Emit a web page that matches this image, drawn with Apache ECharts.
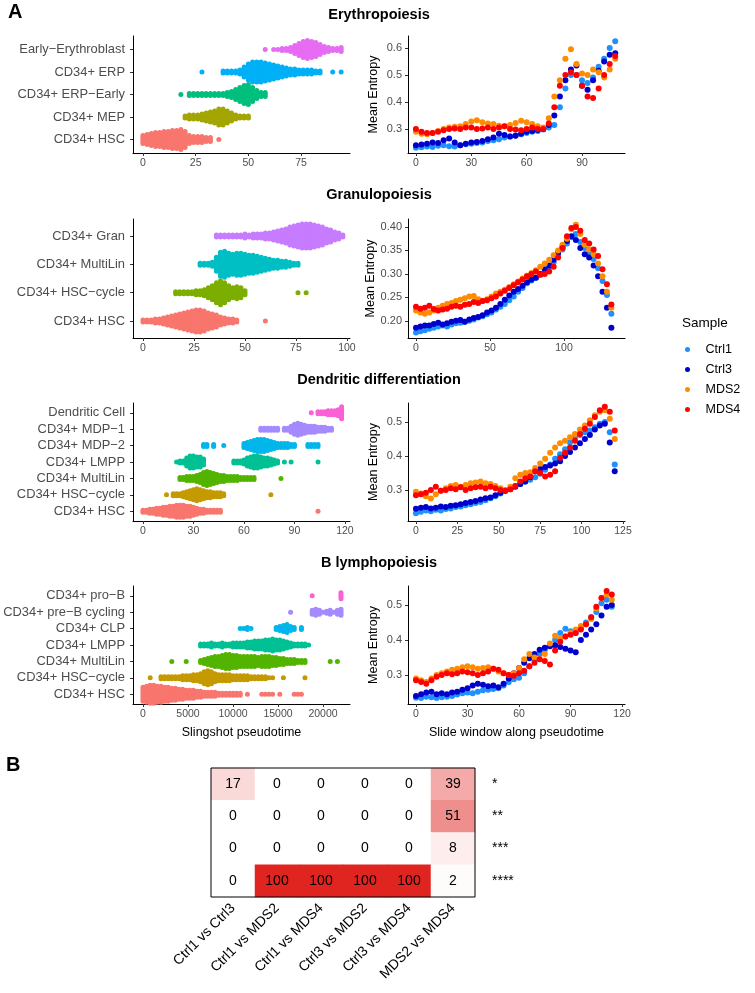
<!DOCTYPE html>
<html>
<head>
<meta charset="utf-8">
<script src="https://cdn.jsdelivr.net/npm/echarts/dist/echarts.min.js"></script>
<style>
  html, body { margin: 0; padding: 0; background: #fff; }
  #chart { width: 755px; height: 993px; }
</style>
</head>
<body>
<div id="chart"></div>
<script>
const FONT = '"Liberation Sans", Arial, sans-serif';

// ---------- samples (right column) ----------
const samples = ['Ctrl1', 'Ctrl3', 'MDS2', 'MDS4'];
const sampleColors = ['#1E90FF', '#0000CD', '#FF8C00', '#FF0000'];

// ---------- Erythropoiesis ----------
const eryCats = ['CD34+ HSC', 'CD34+ MEP', 'CD34+ ERP\u2212Early', 'CD34+ ERP', 'Early\u2212Erythroblast'];
const eryColors = ['#F8766D', '#A3A500', '#00BF7D', '#00B0F6', '#E76BF3'];
const eryBinStep = 2;
const eryBinStart = [0, 20, 18, 28, 58];
const eryCounts = [
  [5,6,7,8,8,9,9,10,10,11,9,5,4,4,4,3,3,0,1],
  [2,3,3,3,4,5,6,7,9,9,7,5,3,2,2,2],
  [1,0,2,2,2,2,2,2,2,2,2,3,4,6,8,10,11,8,5,3,3],
  [1,0,0,0,0,2,2,2,2,3,6,9,11,11,11,10,9,8,7,6,5,4,4,3,3,3,3,2,2,0,0,1,0,1],
  [1,0,1,1,2,2,3,5,7,9,10,9,8,6,4,3,2,2,3]
];
const eryXTicks = [0, 25, 50, 75];
const eryWinStep = 3;
const eryCtrl1 = [0.230,0.232,0.235,0.233,0.238,0.240,0.236,0.235,0.240,0.243,0.245,0.248,0.250,0.255,0.258,0.262,0.268,0.272,0.276,0.280,0.285,0.290,0.292,0.298,0.305,0.315,0.380,0.450,0.500,0.500,0.480,0.470,0.490,0.530,0.560,0.600,0.625];
const eryCtrl3 = [0.240,0.242,0.245,0.250,0.248,0.258,0.265,0.250,0.240,0.245,0.250,0.252,0.255,0.262,0.268,0.282,0.278,0.272,0.275,0.282,0.290,0.292,0.296,0.300,0.315,0.350,0.420,0.480,0.520,0.535,0.460,0.445,0.480,0.515,0.550,0.575,0.580];
const eryMDS2 = [0.290,0.282,0.280,0.285,0.292,0.300,0.305,0.308,0.310,0.318,0.328,0.332,0.325,0.320,0.318,0.312,0.310,0.315,0.322,0.330,0.325,0.318,0.310,0.305,0.340,0.420,0.480,0.560,0.595,0.540,0.505,0.500,0.520,0.510,0.490,0.520,0.560];
const eryMDS4 = [0.300,0.290,0.285,0.285,0.290,0.295,0.300,0.302,0.300,0.305,0.305,0.300,0.302,0.305,0.300,0.305,0.310,0.300,0.298,0.295,0.300,0.305,0.300,0.300,0.320,0.380,0.460,0.500,0.510,0.500,0.460,0.420,0.415,0.450,0.500,0.540,0.570];
const eryEntXTicks = [0, 30, 60, 90];
const eryEntYTicks = [0.3, 0.4, 0.5, 0.6];

// ---------- Granulopoiesis ----------
const granCats = ['CD34+ HSC', 'CD34+ HSC\u2212cycle', 'CD34+ MultiLin', 'CD34+ Gran'];
const granColors = ['#F8766D', '#7CAE00', '#00BFC4', '#C77CFF'];
const granBinStep = 2;
const granBinStart = [0, 16, 28, 36];
const granCounts = [
  [2,2,2,3,3,4,5,6,7,8,9,10,11,12,12,11,9,8,7,5,4,3,3,2,0,0,0,0,0,0,1],
  [2,2,2,2,2,3,3,4,6,8,11,13,11,8,6,7,6,3,0,0,0,0,0,0,0,0,0,0,0,0,1,0,1],
  [2,2,2,3,8,13,14,12,11,12,12,11,10,10,9,8,7,6,5,5,4,4,3,2,2],
  [2,2,2,2,2,2,2,3,2,3,3,3,4,4,5,6,7,8,10,11,12,13,13,13,12,11,10,8,7,5,4,2]
];
const granXTicks = [0, 25, 50, 75, 100];
const granWinStep = 3;
const granCtrl1 = [0.175,0.178,0.180,0.183,0.185,0.188,0.190,0.188,0.192,0.195,0.196,0.198,0.200,0.203,0.207,0.210,0.214,0.218,0.224,0.230,0.236,0.244,0.252,0.262,0.270,0.280,0.286,0.292,0.298,0.305,0.315,0.325,0.340,0.352,0.365,0.378,0.385,0.368,0.355,0.345,0.332,0.312,0.285,0.255,0.215];
const granCtrl3 = [0.185,0.188,0.190,0.190,0.193,0.196,0.192,0.195,0.198,0.200,0.202,0.198,0.203,0.206,0.208,0.212,0.218,0.222,0.228,0.236,0.245,0.254,0.262,0.268,0.275,0.282,0.288,0.292,0.300,0.310,0.318,0.330,0.345,0.358,0.370,0.380,0.372,0.355,0.342,0.335,0.318,0.295,0.262,0.228,0.185];
const granMDS2 = [0.222,0.218,0.215,0.218,0.222,0.228,0.232,0.236,0.238,0.242,0.245,0.248,0.252,0.253,0.246,0.242,0.246,0.252,0.258,0.262,0.266,0.272,0.278,0.284,0.290,0.296,0.302,0.308,0.315,0.322,0.330,0.340,0.350,0.362,0.375,0.395,0.405,0.385,0.362,0.352,0.342,0.322,0.295,0.262,0.228];
const granMDS4 = [0.230,0.226,0.228,0.232,0.225,0.222,0.224,0.226,0.230,0.232,0.230,0.234,0.236,0.240,0.238,0.242,0.244,0.248,0.252,0.258,0.264,0.270,0.276,0.282,0.288,0.295,0.300,0.305,0.298,0.300,0.305,0.315,0.335,0.355,0.380,0.398,0.400,0.392,0.372,0.365,0.352,0.338,0.310,0.278,0.235];
const granEntXTicks = [0, 50, 100];
const granEntYTicks = [0.20, 0.25, 0.30, 0.35, 0.40];

// ---------- Dendritic differentiation ----------
const dendCats = ['CD34+ HSC', 'CD34+ HSC\u2212cycle', 'CD34+ MultiLin', 'CD34+ LMPP', 'CD34+ MDP\u22122', 'CD34+ MDP\u22121', 'Dendritic Cell'];
const dendColors = ['#F8766D', '#C49A00', '#53B400', '#00C094', '#00B6EB', '#A58AFF', '#FB61D7'];
const dendBinStep = 2;
const dendBinStart = [0, 14, 22, 20, 36, 70, 100];
const dendCounts = [
  [2,2,3,3,4,4,5,5,6,6,7,7,7,6,6,5,4,3,3,2,2,2,2,2,0,0,0,0,0,0,0,0,0,0,0,0,0,0,0,0,0,0,0,0,0,0,0,0,0,0,0,0,1],
  [1,0,2,2,2,3,4,5,6,7,6,5,4,4,3,3,3,2,0,0,0,0,0,0,0,0,0,0,0,0,0,1],
  [2,2,3,3,3,4,5,7,8,7,6,5,4,4,3,3,3,3,2,2,2,2,2,0,0,0,0,0,0,0,1],
  [1,2,2,5,7,7,6,6,4,0,0,0,0,0,0,0,0,2,2,2,3,5,6,7,7,6,5,5,4,3,2,0,1,0,1,0,0,0,0,0,0,0,1],
  [2,2,0,2,0,0,1,0,0,0,0,0,3,4,5,6,7,7,7,6,5,4,3,3,3,3,2,2,0,0,0,2,2,2,2],
  [2,2,2,2,2,2,0,2,2,4,6,7,6,5,4,4,4,3,3,3,2,2],
  [1,0,2,2,2,3,3,3,4,7]
];
const dendXTicks = [0, 30, 60, 90, 120];
const dendWinStep = 3;
const dendCtrl1 = [0.232,0.236,0.240,0.238,0.242,0.240,0.244,0.246,0.250,0.252,0.255,0.258,0.262,0.265,0.270,0.276,0.282,0.290,0.298,0.305,0.312,0.318,0.325,0.330,0.338,0.348,0.360,0.375,0.392,0.405,0.420,0.440,0.455,0.462,0.470,0.475,0.485,0.495,0.500,0.470,0.375];
const dendCtrl3 = [0.245,0.248,0.250,0.246,0.248,0.252,0.250,0.254,0.255,0.258,0.262,0.265,0.268,0.272,0.276,0.278,0.285,0.292,0.298,0.302,0.310,0.318,0.325,0.338,0.355,0.362,0.368,0.372,0.378,0.385,0.400,0.412,0.425,0.438,0.450,0.462,0.478,0.490,0.495,0.440,0.355];
const dendMDS2 = [0.295,0.290,0.282,0.275,0.288,0.298,0.305,0.312,0.315,0.310,0.315,0.320,0.322,0.325,0.320,0.318,0.312,0.305,0.300,0.310,0.335,0.345,0.350,0.352,0.365,0.378,0.392,0.410,0.425,0.438,0.445,0.455,0.465,0.478,0.490,0.505,0.520,0.530,0.535,0.510,0.450];
const dendMDS4 = [0.285,0.288,0.292,0.300,0.310,0.298,0.300,0.305,0.302,0.308,0.300,0.305,0.308,0.310,0.305,0.310,0.305,0.300,0.298,0.302,0.312,0.325,0.335,0.340,0.355,0.350,0.340,0.345,0.355,0.395,0.410,0.425,0.445,0.465,0.480,0.495,0.515,0.535,0.545,0.530,0.475];
const dendEntXTicks = [0, 25, 50, 75, 100, 125];
const dendEntYTicks = [0.3, 0.4, 0.5];

// ---------- B lymphopoiesis ----------
const bCats = ['CD34+ HSC', 'CD34+ HSC\u2212cycle', 'CD34+ MultiLin', 'CD34+ LMPP', 'CD34+ CLP', 'CD34+ pre\u2212B cycling', 'CD34+ pro\u2212B'];
const bColors = ['#F8766D', '#C49A00', '#53B400', '#00C094', '#00B6EB', '#A58AFF', '#FB61D7'];
const bBinStep = 400;
const bBinStart = [0, 800, 3200, 6400, 10800, 16400, 18800];
const bCounts = [
  [8,9,10,10,9,9,8,8,7,7,6,6,5,5,5,4,4,3,3,3,3,2,2,2,2,2,2,2,0,1,0,0,0,1,1,1,1,0,1,0,0,0,1,1,1],
  [1,0,0,2,2,2,2,2,2,3,3,3,4,4,5,7,8,7,5,4,4,4,4,3,3,3,3,3,2,2,2,2,2,1,1,0,0,1,0,0,0,0,0,1],
  [1,0,0,0,1,0,0,0,2,3,4,5,6,6,7,8,8,7,7,6,6,6,6,6,5,6,6,6,5,5,4,4,3,3,3,2,2,2,0,0,0,0,0,0,1,0,1],
  [2,2,2,3,2,2,3,2,2,3,3,3,3,4,4,5,5,5,6,6,7,6,6,5,4,3,2,2,2,2,1],
  [1,1,2,1,0,0,0,0,0,0,2,3,4,5,3,2,0,2],
  [1,0,0,0,0,0,3,4,3,1,2,3,1,3,4],
  [1,0,0,0,0,0,0,0,4]
];
const bXTicks = [0, 5000, 10000, 15000, 20000];
const bWinStep = 3;
const bCtrl1 = [0.235,0.234,0.238,0.236,0.234,0.236,0.238,0.240,0.244,0.248,0.250,0.248,0.252,0.256,0.258,0.260,0.262,0.270,0.280,0.288,0.292,0.305,0.325,0.345,0.360,0.372,0.385,0.400,0.420,0.432,0.425,0.420,0.435,0.450,0.465,0.480,0.505,0.515,0.495];
const bCtrl3 = [0.240,0.245,0.250,0.252,0.245,0.248,0.245,0.250,0.252,0.258,0.262,0.270,0.275,0.272,0.268,0.270,0.265,0.275,0.290,0.305,0.320,0.335,0.348,0.360,0.372,0.378,0.382,0.385,0.380,0.375,0.370,0.365,0.400,0.415,0.430,0.445,0.470,0.495,0.500];
const bMDS2 = [0.290,0.285,0.280,0.290,0.300,0.305,0.310,0.315,0.318,0.322,0.325,0.322,0.318,0.320,0.322,0.318,0.310,0.305,0.300,0.305,0.320,0.345,0.360,0.350,0.345,0.360,0.390,0.412,0.405,0.410,0.420,0.430,0.440,0.445,0.460,0.490,0.520,0.530,0.515];
const bMDS4 = [0.285,0.280,0.275,0.285,0.295,0.300,0.305,0.302,0.305,0.310,0.308,0.305,0.300,0.305,0.310,0.318,0.315,0.305,0.300,0.298,0.305,0.312,0.325,0.335,0.345,0.340,0.330,0.370,0.395,0.410,0.415,0.420,0.430,0.445,0.465,0.495,0.520,0.540,0.530];
const bEntXTicks = [0, 30, 60, 90, 120];
const bEntYTicks = [0.3, 0.4, 0.5];

// ---------- heatmap (panel B) ----------
const heatCols = ['Ctrl1 vs Ctrl3', 'Ctrl1 vs MDS2', 'Ctrl1 vs MDS4', 'Ctrl3 vs MDS2', 'Ctrl3 vs MDS4', 'MDS2 vs MDS4'];
const heatRows = ['*', '**', '***', '****'];
const heatVals = [
  [17, 0, 0, 0, 0, 39],
  [0, 0, 0, 0, 0, 51],
  [0, 0, 0, 0, 0, 8],
  [0, 100, 100, 100, 100, 2]
];

// ---------- assemble ----------
const panels = [
  { title: 'Erythropoiesis', cats: eryCats, colors: eryColors, step: eryBinStep, starts: eryBinStart, counts: eryCounts, xTicks: eryXTicks,
    win: eryWinStep, ent: [eryCtrl1, eryCtrl3, eryMDS2, eryMDS4], entX: eryEntXTicks, entY: eryEntYTicks },
  { title: 'Granulopoiesis', cats: granCats, colors: granColors, step: granBinStep, starts: granBinStart, counts: granCounts, xTicks: granXTicks,
    win: granWinStep, ent: [granCtrl1, granCtrl3, granMDS2, granMDS4], entX: granEntXTicks, entY: granEntYTicks },
  { title: 'Dendritic differentiation', cats: dendCats, colors: dendColors, step: dendBinStep, starts: dendBinStart, counts: dendCounts, xTicks: dendXTicks,
    win: dendWinStep, ent: [dendCtrl1, dendCtrl3, dendMDS2, dendMDS4], entX: dendEntXTicks, entY: dendEntYTicks },
  { title: 'B lymphopoiesis', cats: bCats, colors: bColors, step: bBinStep, starts: bBinStart, counts: bCounts, xTicks: bXTicks,
    win: bWinStep, ent: [bCtrl1, bCtrl3, bMDS2, bMDS4], entX: bEntXTicks, entY: bEntYTicks }
];

// pixel layout of each row of panels
const layout = [
  { top: 36,  bottom: 153, titleY: 15,  lx: [-4.7, 98.2],   rx: [-4.3, 113.3],  ry: [0.211, 0.644],  yDec: 1 },
  { top: 219, bottom: 338, titleY: 195, lx: [-4.9, 101.5],  rx: [-5.4, 141.2],  ry: [0.1634, 0.417], yDec: 2 },
  { top: 403, bottom: 521, titleY: 380, lx: [-5.9, 123],    rx: [-4.8, 126.2],  ry: [0.209, 0.556],  yDec: 1 },
  { top: 586, bottom: 704, titleY: 563, lx: [-1111, 23000], rx: [-4.66, 121.7], ry: [0.217, 0.554],  yDec: 1 }
];
const LEFT_X = 133, RIGHT_X = 408, PANEL_W = 217;
const DOT_PITCH = 2;   // vertical px between stacked swarm dots

function swarmPoints(counts, start, step, dy, catIdx) {
  const pts = [];
  counts.forEach((c, i) => {
    const x = start + i * step;
    for (let j = 0; j < c; j++) pts.push([x, catIdx + (j - (c - 1) / 2) * dy]);
  });
  return pts;
}

const axisLine = { show: true, onZero: false, lineStyle: { color: '#000', width: 1 } };
const tickStyle = vals => ({ show: true, length: 3, inside: false, customValues: vals, lineStyle: { color: '#333', width: 1 } });
const numLabel = (vals, fmt, size, margin) => ({ customValues: vals, formatter: fmt, fontSize: size, color: '#4D4D4D', fontFamily: FONT, margin: margin });

const grids = [], xAxes = [], yAxes = [], series = [];
const graphics = [];

panels.forEach((p, k) => {
  const L = layout[k];
  const h = L.bottom - L.top;
  const n = p.cats.length;
  const isLast = k === panels.length - 1;

  // ---- left: beeswarm ----
  const gl = grids.length;
  grids.push({ left: LEFT_X, top: L.top, width: PANEL_W, height: h });
  xAxes.push({
    type: 'value', gridIndex: gl, min: L.lx[0], max: L.lx[1],
    axisLine, axisTick: tickStyle(p.xTicks), splitLine: { show: false },
    axisLabel: numLabel(p.xTicks, v => String(v), 10.5, 5),
    name: isLast ? 'Slingshot pseudotime' : '', nameLocation: 'middle', nameGap: 22,
    nameTextStyle: { fontSize: 12.5, color: '#000', fontFamily: FONT }
  });
  const catIdx = p.cats.map((_, i) => i);
  yAxes.push({
    type: 'value', gridIndex: gl, min: -0.6, max: n - 0.4,
    axisLine, axisTick: tickStyle(catIdx), splitLine: { show: false },
    axisLabel: numLabel(catIdx, v => p.cats[Math.round(v)], 12.9, 8)
  });
  const dy = DOT_PITCH / (h / (n + 0.2));
  p.cats.forEach((c, i) => {
    series.push({
      type: 'scatter', name: c, xAxisIndex: gl, yAxisIndex: gl,
      symbolSize: 5, itemStyle: { color: p.colors[i], opacity: 1 },
      data: swarmPoints(p.counts[i], p.starts[i], p.step, dy, i),
      silent: true, z: 2
    });
  });

  // ---- right: mean entropy ----
  const gr = grids.length;
  grids.push({ left: RIGHT_X, top: L.top, width: PANEL_W, height: h });
  xAxes.push({
    type: 'value', gridIndex: gr, min: L.rx[0], max: L.rx[1],
    axisLine, axisTick: tickStyle(p.entX), splitLine: { show: false },
    axisLabel: numLabel(p.entX, v => String(v), 10.5, 5),
    name: isLast ? 'Slide window along pseudotime' : '', nameLocation: 'middle', nameGap: 22,
    nameTextStyle: { fontSize: 12.5, color: '#000', fontFamily: FONT }
  });
  yAxes.push({
    type: 'value', gridIndex: gr, min: L.ry[0], max: L.ry[1],
    axisLine, axisTick: tickStyle(p.entY), splitLine: { show: false },
    axisLabel: numLabel(p.entY, v => v.toFixed(L.yDec), 11, 6),
    name: 'Mean Entropy', nameLocation: 'middle', nameGap: 28, nameRotate: 90,
    nameTextStyle: { fontSize: 12.5, color: '#000', fontFamily: FONT }
  });
  p.ent.forEach((arr, s) => {
    series.push({
      type: 'scatter', name: samples[s], xAxisIndex: gr, yAxisIndex: gr,
      symbolSize: 6, itemStyle: { color: sampleColors[s], opacity: 1 },
      data: arr.map((v, i) => [i * p.win, v]),
      silent: true, z: 2
    });
  });

  graphics.push({
    type: 'text', x: 379, y: L.titleY,
    style: { text: p.title, font: 'bold 14.5px ' + FONT, fill: '#000', align: 'center', verticalAlign: 'middle' }
  });
});

// ---- heatmap ----
const gh = grids.length;
grids.push({ left: 211, top: 768, width: 264, height: 129, show: true, borderColor: '#000', borderWidth: 1, backgroundColor: 'transparent', z: 5 });
xAxes.push({
  type: 'category', gridIndex: gh, data: heatCols,
  axisLine: { show: false }, axisTick: { show: false }, splitLine: { show: false },
  axisLabel: { rotate: 45, fontSize: 14, color: '#000', fontFamily: FONT, margin: 9, interval: 0 }
});
yAxes.push({
  type: 'category', gridIndex: gh, data: heatRows, inverse: true, position: 'right',
  axisLine: { show: false }, axisTick: { show: false }, splitLine: { show: false },
  axisLabel: { fontSize: 14, color: '#000', fontFamily: FONT, margin: 17, align: 'left' }
});
const heatData = [];
heatVals.forEach((row, r) => row.forEach((v, c) => heatData.push([c, r, v])));
const heatIndex = series.length;
series.push({
  type: 'heatmap', xAxisIndex: gh, yAxisIndex: gh, data: heatData,
  label: { show: true, color: '#000', fontSize: 14, fontFamily: FONT },
  itemStyle: { borderWidth: 0 }, silent: true
});

// ---- panel letters + legend title ----
graphics.push(
  { type: 'text', x: 8, y: 12, style: { text: 'A', font: 'bold 20px ' + FONT, fill: '#000', verticalAlign: 'middle' } },
  { type: 'text', x: 6, y: 765, style: { text: 'B', font: 'bold 20px ' + FONT, fill: '#000', verticalAlign: 'middle' } },
  { type: 'text', x: 682, y: 323, style: { text: 'Sample', font: '13.5px ' + FONT, fill: '#000', verticalAlign: 'middle' } }
);

const chart = echarts.init(document.getElementById('chart'), null, { renderer: 'canvas' });
chart.setOption({
  animation: false,
  backgroundColor: '#fff',
  textStyle: { fontFamily: FONT },
  grid: grids,
  xAxis: xAxes,
  yAxis: yAxes,
  series: series,
  visualMap: {
    type: 'continuous', show: false, min: 0, max: 100, seriesIndex: heatIndex,
    inRange: { color: ['#FFFFFF', '#E0241F'] }
  },
  legend: {
    data: samples, orient: 'vertical', left: 680, top: 338,
    icon: 'circle', itemWidth: 26, itemHeight: 5, itemGap: 7,
    textStyle: { fontSize: 12.5, color: '#000', fontFamily: FONT },
    selectedMode: false
  },
  graphic: graphics
});
</script>
</body>
</html>
